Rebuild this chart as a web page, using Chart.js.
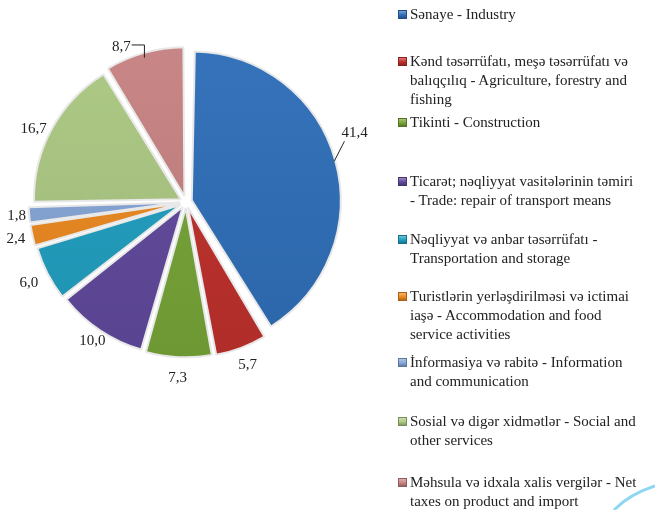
<!DOCTYPE html>
<html>
<head>
<meta charset="utf-8">
<script src="https://cdn.jsdelivr.net/npm/chart.js@4"></script>
<style>
  body { margin: 0; background: #fff; width: 655px; height: 510px; overflow: hidden; position: relative; }
  #pie-box { position: absolute; left: 0; top: 0; width: 372px; height: 404px; }
  #legend { position: absolute; left: 0; top: 0; width: 655px; height: 510px; pointer-events: none;
            font-family: "Times New Roman", "Liberation Serif", serif; font-size: 15px; color: #222; }
  .item { position: absolute; left: 397px; line-height: 19px; padding-left: 13px; }
  .mark { position: absolute; left: 1px; top: 5px; width: 9px; height: 9px; box-sizing: border-box; }
  #swoosh { position: absolute; left: 600px; top: 480px; }
</style>
</head>
<body>
<div id="pie-box"><canvas id="pie"></canvas></div>
<div id="legend"></div>
<svg id="swoosh" width="55" height="30"><path d="M14 30 Q30 14 55 6" stroke="#8fd6f3" stroke-width="3" fill="none"/></svg>
<script>
// data (percent shares)
const categories = [
    ["Sənaye - Industry"],
    ["Kənd təsərrüfatı, meşə təsərrüfatı və", "balıqçılıq - Agriculture, forestry and", "fishing"],
    ["Tikinti - Construction"],
    ["Ticarət; nəqliyyat vasitələrinin təmiri", "- Trade: repair of transport means"],
    ["Nəqliyyat və anbar təsərrüfatı -", "Transportation and storage"],
    ["Turistlərin yerləşdirilməsi və ictimai", "iaşə - Accommodation and food", "service activities"],
    ["İnformasiya və rabitə - Information", "and communication"],
    ["Sosial və digər xidmətlər - Social and", "other services"],
    ["Məhsula və idxala xalis vergilər - Net", "taxes on product and import"]
];
const shares = [41.4, 5.7, 7.3, 10.0, 6.0, 2.4, 1.8, 16.7, 8.7];

const colors = ["#2F6FBA", "#C0302B", "#77A536", "#61499E", "#20A0C2", "#EE8A1F", "#86A8DA", "#ADCA83", "#C98383"];
const legendTops = [5, 52, 113, 172, 230, 287, 353, 412, 473];

function shade(hex, amt) {
    let n = parseInt(hex.slice(1), 16);
    let r = (n >> 16) & 255, g = (n >> 8) & 255, b = n & 255;
    const f = c => Math.max(0, Math.min(255, Math.round(amt > 0 ? c + (255 - c) * amt : c * (1 + amt))));
    return `rgb(${f(r)},${f(g)},${f(b)})`;
}

// legend
const legend = document.getElementById("legend");
categories.forEach((lines, i) => {
    const div = document.createElement("div");
    div.className = "item";
    div.style.top = legendTops[i] + "px";
    div.innerHTML = lines.join("<br>");
    const mk = document.createElement("span");
    mk.className = "mark";
    mk.style.background = `linear-gradient(${shade(colors[i], 0.35)}, ${colors[i]} 55%, ${shade(colors[i], -0.25)})`;
    mk.style.border = "1px solid " + shade(colors[i], -0.3);
    div.appendChild(mk);
    legend.appendChild(div);
});

const valueLabels = {
    id: "valueLabels",
    afterDatasetsDraw(chart, args, opts) {
        const ctx = chart.ctx;
        const meta = chart.getDatasetMeta(0);
        ctx.save();
        ctx.font = '15px "Times New Roman", "Liberation Serif", serif';
        ctx.fillStyle = "#222";
        ctx.strokeStyle = "#222";
        ctx.lineWidth = 1;
        ctx.textAlign = "center";
        ctx.textBaseline = "middle";
        meta.data.forEach((arc, i) => {
            const p = arc.getProps(["x", "y", "startAngle", "endAngle", "outerRadius"], true);
            const mid = (p.startAngle + p.endAngle) / 2;
            const ang = mid + (opts.shift[i] || 0) * Math.PI / 180;
            const d = p.outerRadius + opts.dist[i];
            const lx = p.x + Math.cos(ang) * d;
            const ly = p.y + Math.sin(ang) * d;
            const txt = shares[i].toFixed(1).replace(".", ",");
            ctx.fillText(txt, lx, ly);
            const w = ctx.measureText(txt).width;
            const edge = p.outerRadius + 9;
            const ex = p.x + Math.cos(mid) * edge;
            const ey = p.y + Math.sin(mid) * edge;
            if (opts.leader[i] === "straight") {
                ctx.beginPath();
                ctx.moveTo(ex, ey);
                ctx.lineTo(lx - w / 2 + 3, ly + 8);
                ctx.stroke();
            } else if (opts.leader[i] === "elbow") {
                ctx.beginPath();
                ctx.moveTo(lx + w / 2 + 1, ly - 2);
                ctx.lineTo(ex, ly - 2);
                ctx.lineTo(ex, ey + 4);
                ctx.stroke();
            }
        });
        ctx.restore();
    }
};

new Chart(document.getElementById("pie"), {
    type: "pie",
    data: {
        labels: categories,
        datasets: [{
            data: shares,
            backgroundColor: function (c) {
                const area = c.chart.chartArea;
                if (!area) return colors[c.dataIndex];
                const base = colors[c.dataIndex];
                const g = c.chart.ctx.createLinearGradient(0, area.top, 0, area.bottom);
                g.addColorStop(0, shade(base, 0.04));
                g.addColorStop(1, shade(base, -0.1));
                return g;
            },
            borderColor: "#e8e8e8",
            borderWidth: 2,
            offset: 24,
            spacing: 2,
            radius: 145
        }]
    },
    options: {
        responsive: true,
        maintainAspectRatio: false,
        animation: false,
        layout: { padding: 0 },
        plugins: {
            legend: { display: false },
            tooltip: { enabled: false },
            valueLabels: {
                shift: [-6.7, 0, 0, 0, 0, 0, 0, -3, -7],
                dist: [37, 29, 31, 23, 32, 29, 25, 24, 23],
                leader: ["straight", null, null, null, null, null, null, null, "elbow"]
            }
        }
    },
    plugins: [valueLabels]
});
</script>
</body>
</html>
